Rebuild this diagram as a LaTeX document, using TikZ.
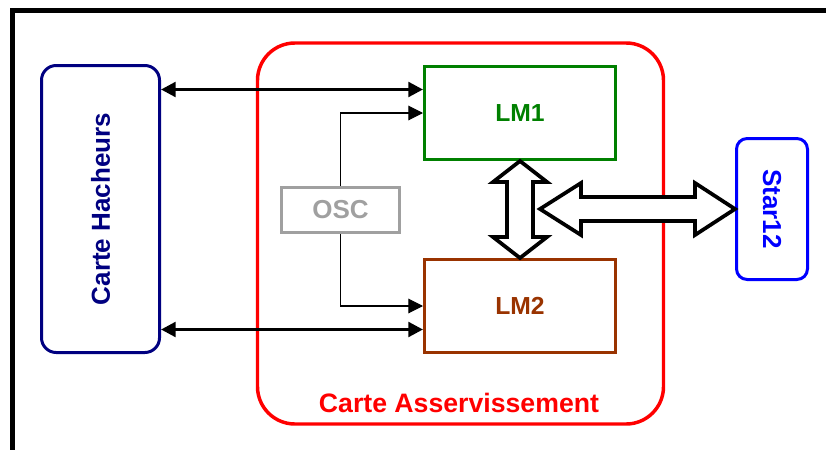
\documentclass[tikz,border=0pt]{standalone}
\usepackage{fontspec}
\setmainfont{Liberation Sans}
\usetikzlibrary{arrows.meta}
\definecolor{navyc}{RGB}{0,0,128}
\definecolor{redc}{RGB}{255,0,0}
\definecolor{greenc}{RGB}{0,128,0}
\definecolor{brownc}{RGB}{153,51,0}
\definecolor{grayc}{RGB}{160,160,160}
\definecolor{bluec}{RGB}{0,0,255}
\tikzset{
  box/.style={draw, inner sep=0pt, line width=2.25pt, font=\bfseries\fontsize{19.5}{20}\selectfont},
  lmbox/.style={box, minimum width=143.25pt, minimum height=69.75pt, font=\bfseries\fontsize{18.5}{20}\selectfont},
  link/.style={line width=2.4pt, {Triangle[length=11pt,width=11pt]}-{Triangle[length=11pt,width=11pt]}},
  osclink/.style={line width=0.8pt, -{Triangle[length=11pt,width=11pt]}},
  blockarrow/.style={draw=black, fill=white, line width=2.8pt, line join=miter},
}
\begin{document}
\begin{tikzpicture}[x=0.75pt, y=-0.75pt]
\useasboundingbox (0,0) rectangle (826,450);
% frame
\draw[line width=3.6pt] (12.5,520) -- (12.5,10.5) -- (900,10.5);
% red card
\node[box, draw=redc, line width=2.6pt, rounded corners=28pt, minimum width=304.5pt, minimum height=285.75pt] (asserv) at (460.5,233.5) {};
\node[text=redc, font=\bfseries\fontsize{20}{20}\selectfont] (asservlbl) at (459,402.5) {Carte Asservissement};
% carte hacheurs
\node[box, draw=navyc, rounded corners=11pt, minimum width=88.5pt, minimum height=215.25pt,
  label={[rotate=90, text=navyc, font=\bfseries\fontsize{19.5}{20}\selectfont]center:Carte Hacheurs}] (hach) at (100.5,209) {};
% LM1, LM2
\node[lmbox, draw=greenc, text=greenc] (lm1) at (520,113) {LM1};
\node[lmbox, draw=brownc, text=brownc] (lm2) at (520,306) {LM2};
% OSC
\node[box, draw=grayc, text=grayc, minimum width=88.5pt, minimum height=33.75pt] (osc) at (340.5,210) {OSC};
% Star12
\node[box, draw=bluec, rounded corners=8pt, minimum width=53.25pt, minimum height=105.75pt,
  label={[rotate=-90, text=bluec, font=\bfseries\fontsize{19.5}{20}\selectfont]center:Star12}] (star) at (772,209) {};
% links
\coordinate (ya) at (0,89.5);
\coordinate (yb) at (0,329.5);
\draw[link] (hach.east |- ya) -- (lm1.west |- ya);
\draw[link] (hach.east |- yb) -- (lm2.west |- yb);
\draw[osclink] (osc.north) |- (lm1.west);
\draw[osclink] (osc.south) |- (lm2.west);
% block arrows
\draw[blockarrow] (lm1.south) -- ++(27,21) -- ++(-14,0) -- ++(0,55) -- ++(14,0) -- ++(-27,21)
  -- ++(-27,-21) -- ++(14,0) -- ++(0,-55) -- ++(-14,0) -- cycle;
\draw[blockarrow] (star.west) -- ++(-40,-26) -- ++(0,14) -- ++(-114,0) -- ++(0,-14) -- ++(-41,26)
  -- ++(41,26) -- ++(0,-14) -- ++(114,0) -- ++(0,14) -- cycle;
\end{tikzpicture}
\end{document}
